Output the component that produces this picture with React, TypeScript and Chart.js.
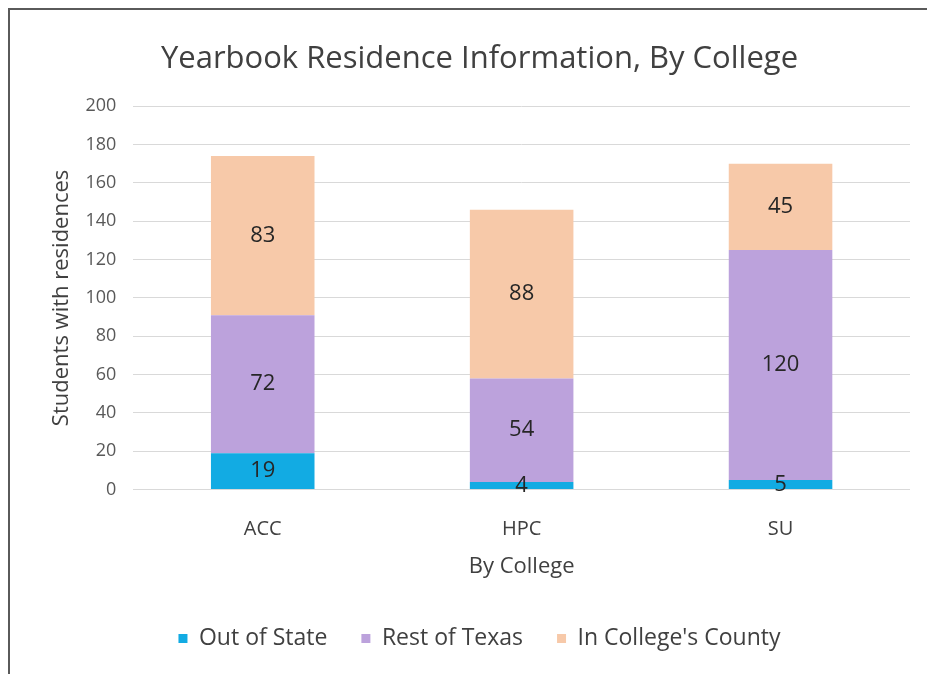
import React, { useEffect, useRef } from "react";
import { Chart, registerables } from "chart.js";

Chart.register(...registerables);

const categories = ["ACC", "HPC", "SU"];
const outOfState = [19, 4, 5];
const restOfTexas = [72, 54, 120];
const inCounty = [83, 88, 45];
const seriesNames = ["Out of State", "Rest of Texas", "In College's County"];
const seriesColors = ["#12ABE3", "#BCA2DC", "#F7C9A9"];
const yTicks = [0, 20, 40, 60, 80, 100, 120, 140, 160, 180, 200];

const FONT = "'Open Sans', Lato, sans-serif";

const dataLabels = {
  id: "dataLabels",
  afterDatasetsDraw(chart: any) {
    const ctx = chart.ctx;
    ctx.save();
    ctx.font = `22px ${FONT}`;
    ctx.fillStyle = "#262626";
    ctx.textAlign = "center";
    ctx.textBaseline = "middle";
    chart.data.datasets.forEach((ds: any, i: number) => {
      const meta = chart.getDatasetMeta(i);
      meta.data.forEach((bar: any, j: number) => {
        const v = ds.data[j];
        const y = (bar.y + bar.base) / 2;
        ctx.fillText(String(v), bar.x, y);
      });
    });
    ctx.restore();
  },
};

export default function App() {
  const ref = useRef<HTMLCanvasElement>(null);
  useEffect(() => {
    const chart = new Chart(ref.current!, {
      type: "bar",
      data: {
        labels: categories,
        datasets: [outOfState, restOfTexas, inCounty].map((d, i) => ({
          label: seriesNames[i],
          data: d,
          backgroundColor: seriesColors[i],
          borderWidth: 0,
          categoryPercentage: 0.8,
          barPercentage: 0.5,
        })),
      },
      options: {
        animation: false,
        responsive: false,
        maintainAspectRatio: false,
        layout: { padding: { left: 49, right: 17, top: 41, bottom: 14 } },
        plugins: {
          title: {
            display: true,
            text: "Yearbook Residence Information, By College",
            font: { family: FONT, size: 31, weight: "normal" },
            color: "#404040",
            padding: { top: 0, bottom: 28 },
          },
          legend: {
            position: "bottom",
            labels: {
              font: { family: FONT, size: 23 },
              color: "#404040",
              boxWidth: 9,
              boxHeight: 9,
              padding: 34,
            },
          },
          tooltip: { enabled: false },
        },
        scales: {
          x: {
            stacked: true,
            grid: { display: false, drawTicks: false },
            border: { display: false },
            ticks: { font: { family: FONT, size: 20 }, color: "#404040", padding: 28 },
            title: {
              display: true,
              text: "By College",
              font: { family: FONT, size: 22 },
              color: "#404040",
              padding: { top: -16, bottom: 13 },
            },
          },
          y: {
            stacked: true,
            min: 0,
            max: 200,
            afterBuildTicks: (axis: any) => {
              axis.ticks = yTicks.map((v) => ({ value: v }));
            },
            grid: { color: "#D9D9D9", drawTicks: false, lineWidth: 1 },
            border: { display: false },
            ticks: { font: { family: FONT, size: 18 }, color: "#595959", padding: 17 },
            title: {
              display: true,
              text: "Students with residences",
              font: { family: FONT, size: 22 },
              color: "#404040",
              padding: { top: 0, bottom: -7 },
            },
          },
        },
      },
      plugins: [dataLabels],
    });
    return () => chart.destroy();
  }, []);
  return (
    <div style={{ position: "fixed", left: 0, top: 0, width: 927, height: 674, background: "#fff" }}>
      <div
        style={{
          position: "absolute",
          left: 8,
          top: 8,
          right: 0,
          bottom: 0,
          borderLeft: "2px solid #5a5a5a",
          borderTop: "2px solid #5a5a5a",
        }}
      />
      <canvas ref={ref} width={927} height={674} style={{ position: "absolute", left: 0, top: 0 }} />
    </div>
  );
}
